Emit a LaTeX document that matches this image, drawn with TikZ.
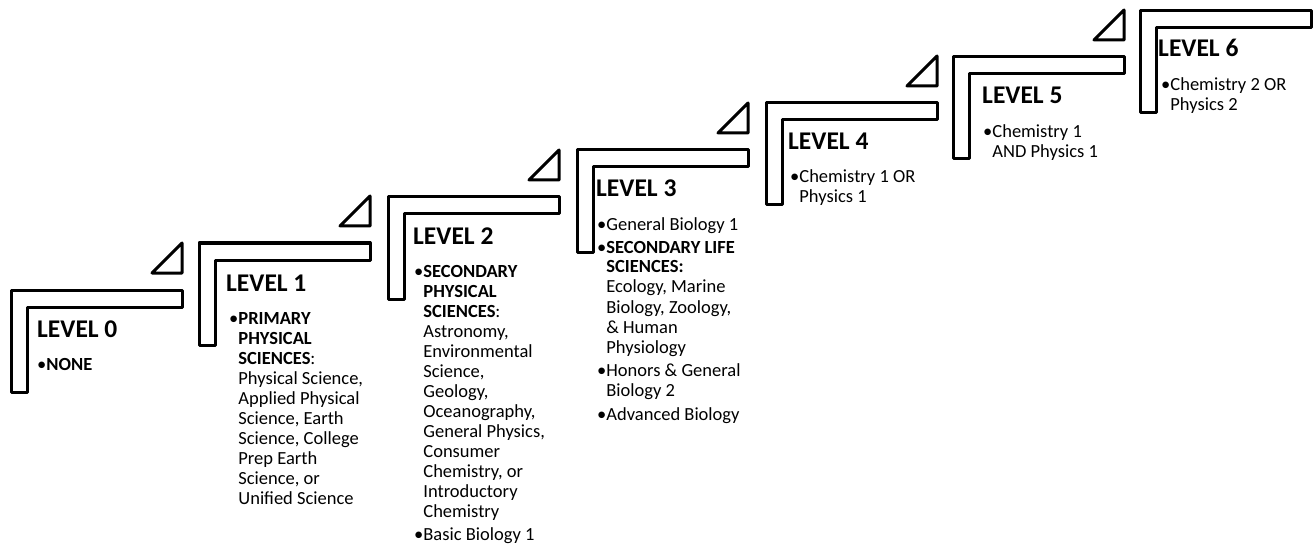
\documentclass[tikz,border=0pt]{standalone}
\usepackage{fontspec}
\setmainfont{Carlito}
\newcommand\bul{•}
\newcommand\ind{\phantom{•}}
\tikzset{
  stepshape/.style={draw=black, line width=3pt, line join=round, fill=white},
  tri/.style={draw=black, line width=3pt, line join=round, fill=white},
  lvl/.style={anchor=base west, inner sep=0pt, font=\bfseries\fontsize{25.5}{30}\selectfont},
  body/.style={anchor=base west, inner sep=0pt},
}
\newcommand\bodytext[1]{\parbox[t]{170pt}{\raggedright\fontsize{18.5}{20}\selectfont #1}}
\begin{document}
\begin{tikzpicture}[x=1pt,y=-1pt]
\useasboundingbox (0,0) rectangle (1313,545);
% steps: X, T
\foreach \X/\T [count=\i from 0] in {11/290,199/243,388/197,577/150,766/103,953/57,1140/11}{
  \draw[stepshape] (\X,\T) -- ++(171,0) -- ++(0,17) -- ++(-155,0) -- ++(0,85) -- ++(-16,0) -- cycle;
}
\foreach \X/\T in {11/290,199/243,388/197,577/150,766/103,953/57}{
  \draw[tri] (\X+171,\T-17) -- (\X+171,\T-47) -- (\X+141,\T-17) -- cycle;
}
% Level 0
\node[lvl] (l0) at (37,337) {LEVEL 0};
\node[body] (t0) at (37,370) {\bodytext{\bul\textbf{NONE}}};
% Level 1
\node[lvl] (l1) at (226,291) {LEVEL 1};
\node[body] (t1) at (229,324) {\bodytext{\bul\textbf{PRIMARY}\\
\ind\textbf{PHYSICAL}\\
\ind\textbf{SCIENCES}:\\
\ind Physical Science,\\
\ind Applied Physical\\
\ind Science, Earth\\
\ind Science, College\\
\ind Prep Earth\\
\ind Science, or\\
\ind Unified Science}};
% Level 2
\node[lvl] (l2) at (413,244) {LEVEL 2};
\node[body] (t2) at (414,277) {\bodytext{\bul\textbf{SECONDARY}\\
\ind\textbf{PHYSICAL}\\
\ind\textbf{SCIENCES}:\\
\ind Astronomy,\\
\ind Environmental\\
\ind Science,\\
\ind Geology,\\
\ind Oceanography,\\
\ind General Physics,\\
\ind Consumer\\
\ind Chemistry, or\\
\ind Introductory\\
\ind Chemistry\\[3pt]
\bul Basic Biology 1}};
% Level 3
\node[lvl] (l3) at (596,197) {LEVEL 3};
\node[body] (t3) at (597,231) {\bodytext{\bul General Biology 1\\[2pt]
\bul\textbf{SECONDARY LIFE}\\
\ind\textbf{SCIENCES:}\\
\ind Ecology, Marine\\
\ind Biology, Zoology,\\
\ind\& Human\\
\ind Physiology\\[3.5pt]
\bul Honors \& General\\
\ind Biology 2\\[3.5pt]
\bul Advanced Biology}};
% Level 4
\node[lvl] (l4) at (788,150) {LEVEL 4};
\node[body] (t4) at (790,183) {\bodytext{\bul Chemistry 1 OR\\
\ind Physics 1}};
% Level 5
\node[lvl] (l5) at (982,104) {LEVEL 5};
\node[body] (t5) at (983,138) {\bodytext{\bul Chemistry 1\\
\ind AND Physics 1}};
% Level 6
\node[lvl] (l6) at (1158,57) {LEVEL 6};
\node[body] (t6) at (1161,91) {\bodytext{\bul Chemistry 2 OR\\
\ind Physics 2}};
\end{tikzpicture}
\end{document}
